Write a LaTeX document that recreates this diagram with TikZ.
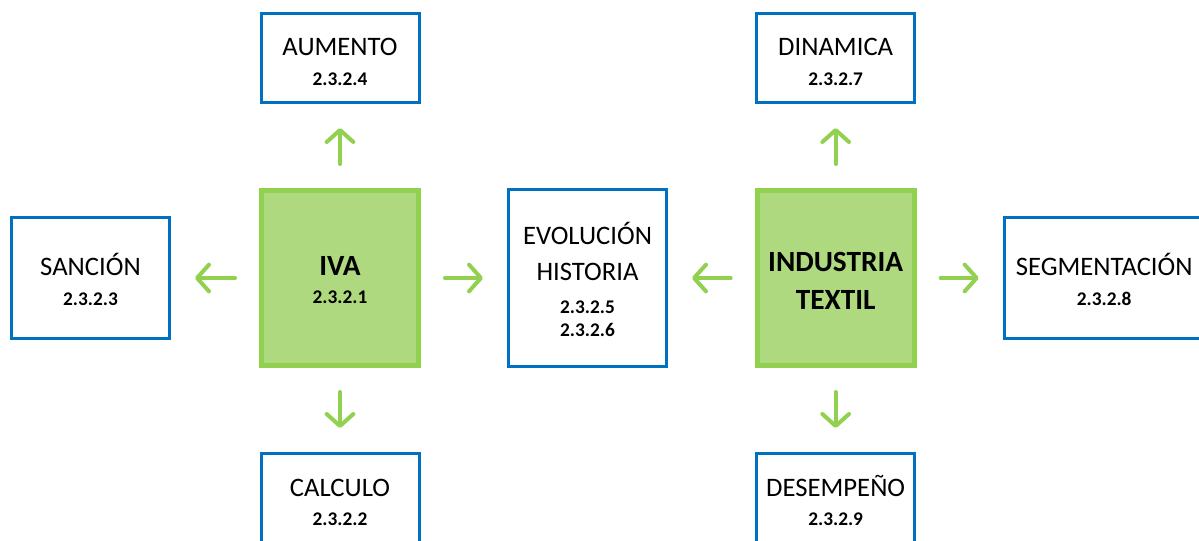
\documentclass[tikz,border=0pt]{standalone}
\usepackage{fontspec}
\setmainfont{Carlito}
\usetikzlibrary{arrows.meta,positioning}
\definecolor{boxblue}{HTML}{0070C0}
\definecolor{coreline}{HTML}{92D050}
\definecolor{corefill}{HTML}{AED97E}
\newcommand\numfont{\fontsize{14.5}{17}\selectfont\bfseries}
\tikzset{%
  >={Straight Barb[round,length=9pt,width=20pt]},
  % Specifications for style of nodes:
        base/.style = {rectangle, draw=boxblue, line width=2.25pt,
                       fill=white, align=center, inner sep=0pt,
                       text height=41pt, text depth=0pt,
                       font=\fontsize{20}{24}\selectfont},
       topic/.style = {base, minimum width=118.5pt, minimum height=66.75pt},
   sidetopic/.style = {base, minimum width=118.5pt, minimum height=90.75pt},
    midtopic/.style = {base, minimum width=118.5pt, minimum height=132.75pt,
                       text height=88pt},
        core/.style = {base, draw=coreline, fill=corefill, line width=3.75pt,
                       minimum width=117.75pt, minimum height=131.25pt,
                       text height=39pt,
                       font=\fontsize{22}{22}\selectfont\bfseries},
        link/.style = {->, draw=coreline, line width=3pt, line cap=round,
                       shorten <=18pt, shorten >=18pt},
}

\begin{document}
\begin{tikzpicture}
  \useasboundingbox (0,0) rectangle (899.25pt,-405.75pt);
  % Specification of nodes (position, etc.)
  \node (iva) [core] at (255pt,-208.5pt) {IVA\\[-1pt]{\numfont 2.3.2.1}};
  \node (evolucion) [midtopic, right=64.5pt of iva]
    {EVOLUCIÓN\\[3pt]HISTORIA\\[1pt]{\numfont 2.3.2.5}\\[-7pt]{\numfont 2.3.2.6}};
  \node (industria) [core, text height=48pt, right=65pt of evolucion]
    {INDUSTRIA\\[7pt]TEXTIL};
  \node (aumento) [topic, above=63pt of iva] {AUMENTO\\[-2pt]{\numfont 2.3.2.4}};
  \node (calculo) [topic, below=63pt of iva] {CALCULO\\[-2pt]{\numfont 2.3.2.2}};
  \node (sancion) [sidetopic, left=66pt of iva] {SANCIÓN\\[-2pt]{\numfont 2.3.2.3}};
  \node (dinamica) [topic, above=63pt of industria] {DINAMICA\\[-2pt]{\numfont 2.3.2.7}};
  \node (desempeno) [topic, below=63pt of industria] {DESEMPEÑO\\[-2pt]{\numfont 2.3.2.9}};
  \node (segmentacion) [sidetopic, minimum width=150pt, right=64.5pt of industria]
    {SEGMENTACIÓN\\[-2pt]{\numfont 2.3.2.8}};
  % Specification of arrows between nodes
  \draw[link] (iva) -- (aumento);
  \draw[link] (iva) -- (calculo);
  \draw[link] (iva) -- (sancion);
  \draw[link] (iva) -- (evolucion);
  \draw[link] (industria) -- (evolucion);
  \draw[link] (industria) -- (dinamica);
  \draw[link] (industria) -- (desempeno);
  \draw[link] (industria) -- (segmentacion);
\end{tikzpicture}
\end{document}
